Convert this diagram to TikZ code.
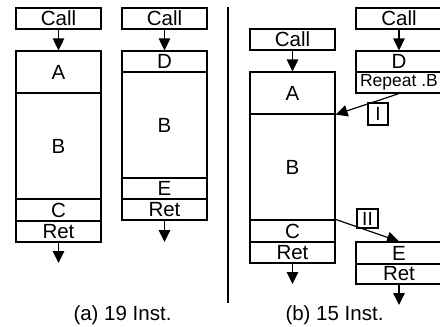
\documentclass[tikz,border=0pt]{standalone}
\usepackage{fontspec}
\setmainfont{Liberation Sans}
\usetikzlibrary{arrows.meta}
\tikzset{
  blk/.style={draw, line width=1.2pt, inner sep=0pt, minimum width=85pt, font=\fontsize{20.5}{20.5}\selectfont},
  lbl/.style={draw, line width=1.2pt, inner sep=0pt, font=\fontsize{19}{19}\selectfont},
  flow/.style={line width=1.2pt, -{Triangle[length=12pt,width=11.5pt]}},
  captxt/.style={font=\fontsize{20.5}{20.5}\selectfont, inner sep=0pt},
}
\begin{document}
\begin{tikzpicture}[x=1pt,y=-1pt]
\useasboundingbox (0,0) rectangle (440,327);
% ---- (a) column 1
\node[blk, minimum height=21pt] (call1) at (58.5,18.5) {Call};
\node[blk, minimum height=42pt] (A1) at (58.5,72) {A};
\node[blk, minimum height=106pt] (B1) at (58.5,146) {B};
\node[blk, minimum height=22pt] (C1) at (58.5,210) {C};
\node[blk, minimum height=21pt] (Ret1) at (58.5,231.5) {Ret};
\coordinate (end1) at (58.5,263);
\draw[flow] (call1) -- (A1);
\draw[flow] (Ret1) -- (end1);
% ---- (a) column 2
\node[blk, minimum height=21pt] (call2) at (164.5,18.5) {Call};
\node[blk, minimum height=21pt] (D2) at (164.5,61.5) {D};
\node[blk, minimum height=106pt] (B2) at (164.5,125) {B};
\node[blk, minimum height=21pt] (E2) at (164.5,188.5) {E};
\node[blk, minimum height=21pt] (Ret2) at (164.5,209.5) {Ret};
\coordinate (end2) at (164.5,242);
\draw[flow] (call2) -- (D2);
\draw[flow] (Ret2) -- (end2);
% ---- divider
\coordinate (dtop) at (228,7);
\coordinate (dbot) at (228,303);
\draw[line width=1.2pt] (dtop) -- (dbot);
% ---- (b) column 3
\node[blk, minimum height=21pt] (call3) at (292.5,39.5) {Call};
\node[blk, minimum height=42pt] (A3) at (292.5,93) {A};
\node[blk, minimum height=106pt] (B3) at (292.5,167) {B};
\node[blk, minimum height=22pt] (C3) at (292.5,231) {C};
\node[blk, minimum height=21pt] (Ret3) at (292.5,252.5) {Ret};
\coordinate (end3) at (292.5,284);
\draw[flow] (call3) -- (A3);
\draw[flow] (Ret3) -- (end3);
% ---- (b) column 4
\node[blk, minimum width=86pt, minimum height=21pt] (call4) at (399,18.5) {Call};
\node[blk, minimum width=86pt, minimum height=21pt] (D4) at (399,61.5) {D};
\node[blk, minimum width=86pt, minimum height=21pt, font=\fontsize{17.5}{17.5}\selectfont] (Rep4) at (399,82.5) {Repeat .B};
\node[blk, minimum width=86pt, minimum height=22pt] (E4) at (399,253) {E};
\node[blk, minimum width=86pt, minimum height=20pt] (Ret4) at (399,274) {Ret};
\coordinate (end4) at (399,305);
\draw[flow] (call4) -- (D4);
\draw[flow] (Ret4) -- (end4);
% ---- transfers
\node[lbl, minimum width=20pt, minimum height=22pt] (l1) at (378,114) {I};
\node[lbl, minimum width=21pt, minimum height=19pt] (l2) at (367.5,218.5) {II};
\draw[flow] (Rep4.south) -- (A3.south east);
\draw[flow] (C3.north east) -- (E4.north);
% ---- captions
\node[captxt] (capa) at (122.5,315) {(a) 19 Inst.};
\node[captxt] (capb) at (334.5,315) {(b) 15 Inst.};
\end{tikzpicture}
\end{document}
